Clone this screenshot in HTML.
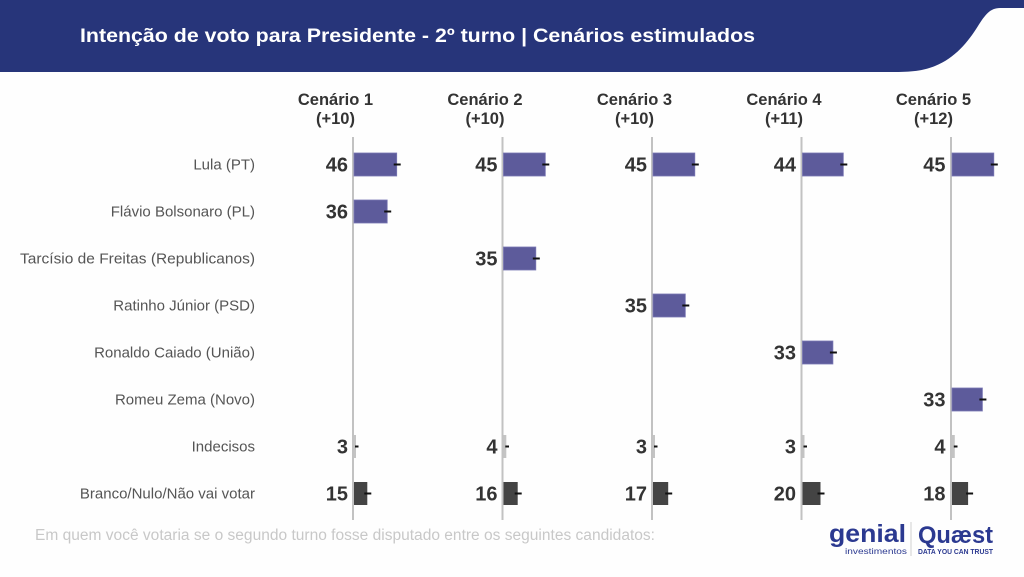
<!DOCTYPE html>
<html><head><meta charset="utf-8"><style>
html,body{margin:0;padding:0;background:#fefefe;}
svg{display:block;}
text{font-family:"Liberation Sans",Arial,sans-serif;}
</style></head><body>
<svg width="1024" height="577" viewBox="0 0 1024 577" xmlns="http://www.w3.org/2000/svg">
<rect width="1024" height="577" fill="#fefefe"/>
<path d="M0 0 H1024 V8 L1000 8 C990 8 985 15 978 26 C968 42 955 58 935 66 C925 70 915 72 895 72 L0 72 Z" fill="#27357a"/>
<text x="80" y="42" font-size="19.5" font-weight="bold" fill="#fff" textLength="675" lengthAdjust="spacingAndGlyphs">Intenção de voto para Presidente - 2º turno | Cenários estimulados</text>

<!-- row labels -->
<g font-size="15" fill="#555" text-anchor="end">
<text x="255" y="169.5">Lula (PT)</text>
<text x="255" y="216.5">Flávio Bolsonaro (PL)</text>
<text x="255" y="263.5" textLength="235" lengthAdjust="spacingAndGlyphs">Tarcísio de Freitas (Republicanos)</text>
<text x="255" y="310.5">Ratinho Júnior (PSD)</text>
<text x="255" y="357.5">Ronaldo Caiado (União)</text>
<text x="255" y="404.5">Romeu Zema (Novo)</text>
<text x="255" y="451.5">Indecisos</text>
<text x="255" y="498.5">Branco/Nulo/Não vai votar</text>
</g>

<!-- axes -->
<g stroke="#c2c2c2" stroke-width="2">
<line x1="353" y1="137" x2="353" y2="520"/>
<line x1="502.5" y1="137" x2="502.5" y2="520"/>
<line x1="652" y1="137" x2="652" y2="520"/>
<line x1="801.5" y1="137" x2="801.5" y2="520"/>
<line x1="951" y1="137" x2="951" y2="520"/>
</g>

<!-- headers -->
<g font-size="16.5" font-weight="bold" fill="#333" text-anchor="middle">
<text x="335.5" y="105">Cenário 1</text><text x="335.5" y="124">(+10)</text>
<text x="485" y="105">Cenário 2</text><text x="485" y="124">(+10)</text>
<text x="634.5" y="105">Cenário 3</text><text x="634.5" y="124">(+10)</text>
<text x="784" y="105">Cenário 4</text><text x="784" y="124">(+11)</text>
<text x="933.5" y="105">Cenário 5</text><text x="933.5" y="124">(+12)</text>
</g>

<!-- bars -->
<g id="bars">
<!-- Cenario 1, axis 353 -->
<rect x="354" y="153" width="42.7" height="23" fill="#5d5b9b" stroke="#7876b2" stroke-width="0.8"/>
<rect x="354" y="200" width="33.2" height="23" fill="#5d5b9b" stroke="#7876b2" stroke-width="0.8"/>
<rect x="354" y="435" width="2" height="23" fill="#c4c4c4"/>
<rect x="354" y="482" width="13.3" height="23" fill="#444"/>
<!-- Cenario 2, axis 502.5 -->
<rect x="503.5" y="153" width="41.8" height="23" fill="#5d5b9b" stroke="#7876b2" stroke-width="0.8"/>
<rect x="503.5" y="247" width="32.3" height="23" fill="#5d5b9b" stroke="#7876b2" stroke-width="0.8"/>
<rect x="503.5" y="435" width="2.8" height="23" fill="#c4c4c4"/>
<rect x="503.5" y="482" width="14.2" height="23" fill="#444"/>
<!-- Cenario 3, axis 652 -->
<rect x="653" y="153" width="41.8" height="23" fill="#5d5b9b" stroke="#7876b2" stroke-width="0.8"/>
<rect x="653" y="294" width="32.3" height="23" fill="#5d5b9b" stroke="#7876b2" stroke-width="0.8"/>
<rect x="653" y="435" width="2" height="23" fill="#c4c4c4"/>
<rect x="653" y="482" width="15.2" height="23" fill="#444"/>
<!-- Cenario 4, axis 801.5 -->
<rect x="802.5" y="153" width="40.8" height="23" fill="#5d5b9b" stroke="#7876b2" stroke-width="0.8"/>
<rect x="802.5" y="341" width="30.4" height="23" fill="#5d5b9b" stroke="#7876b2" stroke-width="0.8"/>
<rect x="802.5" y="435" width="2" height="23" fill="#c4c4c4"/>
<rect x="802.5" y="482" width="18" height="23" fill="#444"/>
<!-- Cenario 5, axis 951 -->
<rect x="952" y="153" width="41.8" height="23" fill="#5d5b9b" stroke="#7876b2" stroke-width="0.8"/>
<rect x="952" y="388" width="30.4" height="23" fill="#5d5b9b" stroke="#7876b2" stroke-width="0.8"/>
<rect x="952" y="435" width="2.8" height="23" fill="#c4c4c4"/>
<rect x="952" y="482" width="16.1" height="23" fill="#444"/>
</g>

<!-- error ticks -->
<g stroke="#111" stroke-width="2">
<line x1="393.7" y1="164.5" x2="400.7" y2="164.5"/>
<line x1="384.2" y1="211.5" x2="391.2" y2="211.5"/>
<line x1="355" y1="446.5" x2="358.5" y2="446.5"/>
<line x1="364.3" y1="493.5" x2="371.3" y2="493.5"/>

<line x1="542.3" y1="164.5" x2="549.3" y2="164.5"/>
<line x1="532.8" y1="258.5" x2="539.8" y2="258.5"/>
<line x1="505.3" y1="446.5" x2="509" y2="446.5"/>
<line x1="514.7" y1="493.5" x2="521.7" y2="493.5"/>

<line x1="691.8" y1="164.5" x2="698.8" y2="164.5"/>
<line x1="682.3" y1="305.5" x2="689.3" y2="305.5"/>
<line x1="654" y1="446.5" x2="657.5" y2="446.5"/>
<line x1="665.2" y1="493.5" x2="672.2" y2="493.5"/>

<line x1="840.3" y1="164.5" x2="847.3" y2="164.5"/>
<line x1="829.9" y1="352.5" x2="836.9" y2="352.5"/>
<line x1="803.5" y1="446.5" x2="807" y2="446.5"/>
<line x1="817.5" y1="493.5" x2="824.5" y2="493.5"/>

<line x1="990.8" y1="164.5" x2="997.8" y2="164.5"/>
<line x1="979.4" y1="399.5" x2="986.4" y2="399.5"/>
<line x1="953.8" y1="446.5" x2="957.5" y2="446.5"/>
<line x1="966.1" y1="493.5" x2="973.1" y2="493.5"/>
</g>

<!-- values -->
<g font-size="20" font-weight="bold" fill="#333" text-anchor="end">
<text x="348" y="171.5">46</text>
<text x="348" y="218.5">36</text>
<text x="348" y="453.5">3</text>
<text x="348" y="500.5">15</text>

<text x="497.5" y="171.5">45</text>
<text x="497.5" y="265.5">35</text>
<text x="497.5" y="453.5">4</text>
<text x="497.5" y="500.5">16</text>

<text x="647" y="171.5">45</text>
<text x="647" y="312.5">35</text>
<text x="647" y="453.5">3</text>
<text x="647" y="500.5">17</text>

<text x="796" y="171.5">44</text>
<text x="796" y="359.5">33</text>
<text x="796" y="453.5">3</text>
<text x="796" y="500.5">20</text>

<text x="945.5" y="171.5">45</text>
<text x="945.5" y="406.5">33</text>
<text x="945.5" y="453.5">4</text>
<text x="945.5" y="500.5">18</text>
</g>

<!-- footer -->
<text x="35" y="540" font-size="15.5" fill="#c8c8c8" textLength="620" lengthAdjust="spacingAndGlyphs">Em quem você votaria se o segundo turno fosse disputado entre os seguintes candidatos:</text>

<!-- logos -->
<g fill="#2b3990">
<text x="829" y="542" font-size="25" font-weight="bold" textLength="77" lengthAdjust="spacingAndGlyphs">genial</text>
<text x="845" y="554" font-size="8" textLength="62" lengthAdjust="spacingAndGlyphs">investimentos</text>
<text x="918" y="543" font-size="24" font-weight="bold" textLength="75" lengthAdjust="spacingAndGlyphs">Quæst</text>
<text x="918" y="554" font-size="7" font-weight="bold" textLength="75" lengthAdjust="spacingAndGlyphs">DATA YOU CAN TRUST</text>
</g>
<line x1="911" y1="522" x2="911" y2="556" stroke="#d0d0d0" stroke-width="1"/>
</svg>
</body></html>
